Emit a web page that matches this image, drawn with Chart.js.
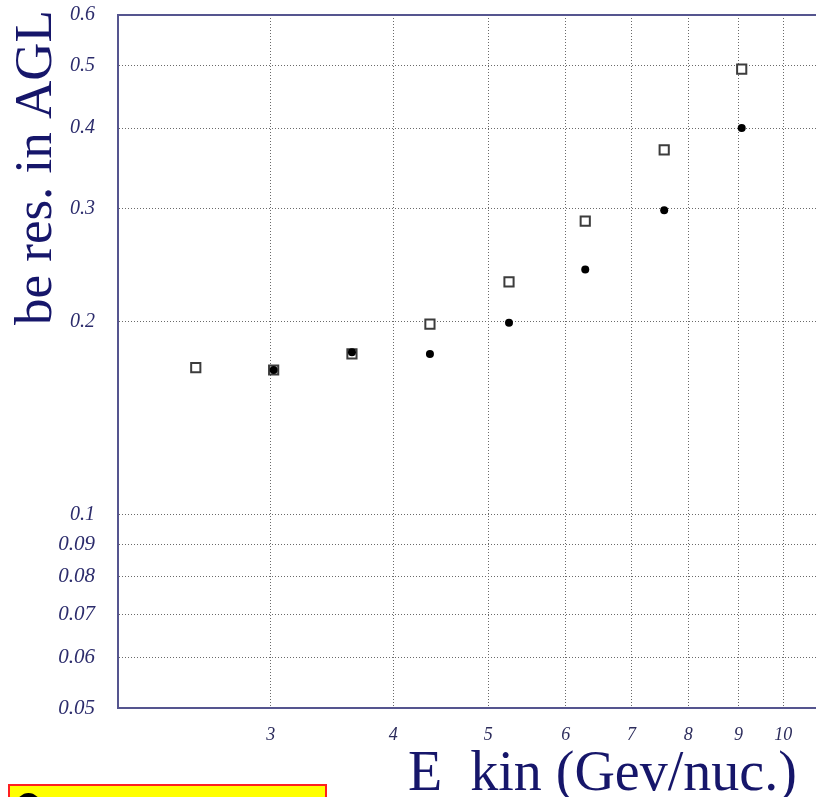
<!DOCTYPE html>
<html>
<head>
<meta charset="utf-8">
<script src="https://cdn.jsdelivr.net/npm/chart.js@4/dist/chart.umd.min.js"></script>
<style>
  html, body { margin: 0; padding: 0; background: #fff; overflow: hidden; }
  #wrap { position: relative; width: 816px; height: 797px; }
  #note {
    position: absolute; left: 8px; top: 784px; width: 319px; height: 40px;
    background: #ffff00; border: 2px solid #ff2020; box-sizing: border-box;
  }
  #note span {
    position: absolute; left: 7px; top: 7px; width: 23px; height: 23px;
    border-radius: 50%; background: #000;
  }
</style>
</head>
<body>
<div id="wrap">
  <canvas id="chart" width="816" height="797"></canvas>
  <div id="note"><span></span></div>
</div>
<script>
// Kinetic energy per nucleon (GeV/nuc.) and beta resolution in AGL
const energyOpen = [2.515, 3.02, 3.63, 4.36, 5.25, 6.28, 7.56, 9.07];
const resOpen    = [0.1695, 0.168, 0.178, 0.198, 0.2305, 0.2866, 0.370, 0.494];

const energyFilled = [3.02, 3.63, 4.36, 5.25, 6.28, 7.56, 9.07];
const resFilled    = [0.168, 0.179, 0.178, 0.199, 0.241, 0.298, 0.400];

const xTicks = [3, 4, 5, 6, 7, 8, 9, 10];
const yTicks = [0.05, 0.06, 0.07, 0.08, 0.09, 0.1, 0.2, 0.3, 0.4, 0.5, 0.6];

const navy = '#16166a';
const frame = '#55558f';

const toPoints = (xs, ys) => xs.map((x, i) => ({ x: x, y: ys[i] }));

// frame top edge and the two big serif axis titles
const decorations = {
  id: 'decorations',
  afterDraw(chart) {
    const { ctx, chartArea: a } = chart;
    ctx.save();
    ctx.strokeStyle = frame;
    ctx.lineWidth = 2;
    ctx.beginPath();
    ctx.moveTo(a.left, a.top);
    ctx.lineTo(a.right, a.top);
    ctx.stroke();

    ctx.fillStyle = navy;
    ctx.textBaseline = 'alphabetic';
    ctx.textAlign = 'left';
    ctx.font = '56px "Liberation Serif", "DejaVu Serif", serif';
    ctx.fillText('E  kin (Gev/nuc.)', 408, 790);

    ctx.font = '53px "Liberation Serif", "DejaVu Serif", serif';
    ctx.translate(51, 325);
    ctx.rotate(-Math.PI / 2);
    ctx.fillText('be res. in AGL', 0, 0);
    ctx.restore();
  }
};

new Chart(document.getElementById('chart'), {
  type: 'scatter',
  data: {
    datasets: [
      {
        label: 'open',
        data: toPoints(energyOpen, resOpen),
        pointStyle: 'rect',
        pointRadius: 6.5,
        pointBorderWidth: 2,
        pointBackgroundColor: '#ffffff',
        pointBorderColor: '#3c3c3c',
        order: 2
      },
      {
        label: 'filled',
        data: toPoints(energyFilled, resFilled),
        pointStyle: 'circle',
        pointRadius: 4,
        pointBorderWidth: 0,
        pointBackgroundColor: '#000000',
        order: 1
      }
    ]
  },
  options: {
    responsive: false,
    animation: false,
    layout: { autoPadding: false, padding: { top: 15, right: 0, left: 0, bottom: 0 } },
    plugins: {
      legend: { display: false },
      tooltip: { enabled: false }
    },
    scales: {
      x: {
        type: 'logarithmic',
        min: 2.095,
        max: 10.8,
        afterBuildTicks: s => { s.ticks = xTicks.map(v => ({ value: v })); },
        afterFit: s => {
          s.height = 89;
          s.paddingLeft = 0;
          s.paddingRight = 0;
        },
        grid: { color: '#6a6a6a', lineWidth: 1, drawTicks: false },
        border: { color: frame, width: 2, dash: [1, 2] },
        ticks: {
          padding: 16,
          color: '#2c2c5c',
          font: { family: '"Liberation Serif", serif', style: 'italic', size: 18 },
          callback: v => String(v),
          autoSkip: false,
          maxRotation: 0
        }
      },
      y: {
        type: 'logarithmic',
        min: 0.05,
        max: 0.6,
        afterBuildTicks: s => { s.ticks = yTicks.map(v => ({ value: v })); },
        afterFit: s => {
          s.width = 118;
          s.paddingTop = 0;
          s.paddingBottom = 0;
        },
        grid: { color: '#6a6a6a', lineWidth: 1, drawTicks: false },
        border: { color: frame, width: 2, dash: [1, 2] },
        ticks: {
          padding: 23,
          color: '#2c2c6c',
          font: c => ({
            family: '"Liberation Serif", serif',
            style: 'italic',
            size: c.tick && c.tick.value < 0.1 ? 21 : 20
          }),
          callback: v => String(v),
          autoSkip: false
        }
      }
    }
  },
  plugins: [decorations]
});
</script>
</body>
</html>
